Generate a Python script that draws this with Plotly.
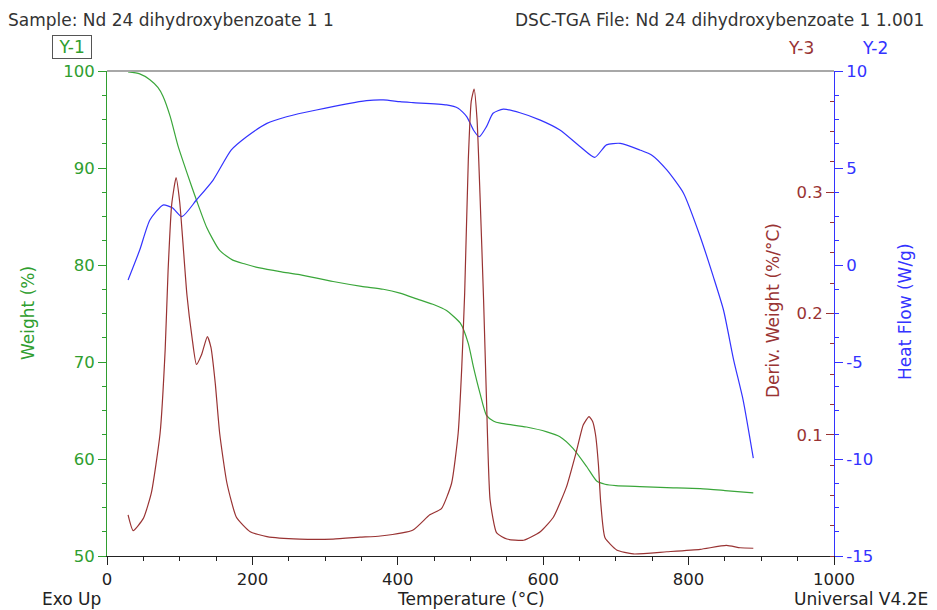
import plotly.graph_objects as go

# ---------------- data ----------------
weight_T = [29, 45, 59, 70, 77, 87, 98, 110, 123, 137, 155, 173, 190, 210, 240, 265, 311, 350, 380, 403,
            430, 450, 467, 486, 497, 504, 513, 522, 532, 541, 577, 605, 623, 641, 660, 674, 685, 700,
            733, 770, 816, 850, 889]
weight_W = [99.9, 99.7, 99.1, 98.3, 97.4, 95.3, 92.2, 89.5, 86.7, 83.9, 81.5, 80.5, 80.1, 79.7, 79.3, 79.0,
            78.3, 77.8, 77.5, 77.1, 76.4, 75.9, 75.3, 74.0, 71.9, 69.5, 66.8, 64.5, 63.9, 63.7, 63.3, 62.8,
            62.3, 61.1, 59.2, 57.7, 57.4, 57.25, 57.15, 57.05, 56.95, 56.75, 56.5]

deriv_T = [29, 36, 50, 61, 73, 80, 84, 89, 95, 100, 104, 110, 117, 123, 130, 138, 143, 149, 155, 165, 178,
           197, 220, 265, 311, 348, 376, 421, 444, 460, 474, 483, 488, 492, 497, 501, 505, 509, 513,
           518, 522, 527, 536, 550, 573, 596, 614, 632, 646, 655, 663, 668, 672, 676, 679, 685, 701, 724,
           770, 816, 852, 871, 889]
deriv_D = [0.034, 0.021, 0.031, 0.052, 0.101, 0.170, 0.235, 0.290, 0.312, 0.292, 0.262, 0.215, 0.180, 0.158,
           0.166, 0.181, 0.172, 0.142, 0.101, 0.060, 0.032, 0.020, 0.016, 0.014, 0.014, 0.0155, 0.0165,
           0.0215, 0.034, 0.039, 0.060, 0.101, 0.156, 0.217, 0.327, 0.375, 0.385, 0.360, 0.299, 0.211,
           0.129, 0.046, 0.019, 0.014, 0.013, 0.020, 0.032, 0.057, 0.087, 0.108, 0.115, 0.111, 0.100,
           0.075, 0.045, 0.015, 0.005, 0.0017, 0.0035, 0.0055, 0.0088, 0.0068, 0.0064]

heat_T = [29, 45, 59, 77, 90, 103, 123, 146, 171, 192, 220, 247, 288, 357, 380, 403, 421, 467, 483, 495,
          504, 512, 522, 531, 545, 568, 596, 623, 651, 671, 687, 706, 733, 750, 770, 793, 816, 834, 848,
          862, 875, 889]
heat_H = [-0.77, 0.77, 2.32, 3.09, 2.95, 2.49, 3.35, 4.38, 5.93, 6.61, 7.30, 7.64, 7.99, 8.47, 8.51, 8.42,
          8.37, 8.25, 8.08, 7.64, 6.96, 6.61, 7.13, 7.82, 8.03, 7.85, 7.47, 6.96, 6.10, 5.55, 6.19, 6.27,
          5.93, 5.65, 4.90, 3.70, 1.46, -0.60, -2.32, -4.90, -6.96, -9.96]

x_ticks = [0, 200, 400, 600, 800, 1000]
weight_ticks = [50, 60, 70, 80, 90, 100]
heat_ticks = [-15, -10, -5, 0, 5, 10]
heat_tick_labels = ["-15", "-10", "-5", "0", "5", "10"]
deriv_ticks = [0.1, 0.2, 0.3]

# ---------------- style ----------------
GREEN = "#2f9e2f"
BROWN = "#993333"
BLUE = "#3333ff"
FONT = "DejaVu Sans"

fig = go.Figure()
fig.add_trace(go.Scatter(x=weight_T, y=weight_W, mode="lines", yaxis="y",
                         line=dict(color="#3aa63a", width=1.2, shape="spline", smoothing=0.6)))
fig.add_trace(go.Scatter(x=heat_T, y=heat_H, mode="lines", yaxis="y2",
                         line=dict(color=BLUE, width=1.2, shape="spline", smoothing=0.6)))
fig.add_trace(go.Scatter(x=deriv_T, y=deriv_D, mode="lines", yaxis="y3",
                         line=dict(color=BROWN, width=1.2, shape="spline", smoothing=0.5)))

fig.update_layout(
    width=937, height=610,
    margin=dict(l=107, r=103, t=71, b=54),
    paper_bgcolor="white", plot_bgcolor="white",
    showlegend=False,
    font=dict(family=FONT, size=16.5, color="#222"),
    xaxis=dict(range=[0, 1000], tickvals=x_ticks, ticks="outside", ticklen=8, tickcolor="#222",
               minor=dict(dtick=50, ticks="outside", ticklen=4, tickcolor="#222"),
               showline=True, linecolor="#222", linewidth=1, showgrid=False, zeroline=False,
               tickfont=dict(color="#222", size=16.5)),
    yaxis=dict(range=[50, 100], tickvals=weight_ticks, ticks="outside", ticklen=8, tickcolor=GREEN,
               minor=dict(dtick=2.5, ticks="outside", ticklen=4, tickcolor=GREEN),
               showline=True, linecolor=GREEN, linewidth=1, showgrid=False, zeroline=False,
               tickfont=dict(color=GREEN, size=16.5)),
    yaxis2=dict(range=[-15, 10], tickvals=heat_ticks, ticktext=heat_tick_labels,
                overlaying="y", side="right", anchor="x",
                ticks="outside", ticklen=8, tickcolor=BLUE,
                minor=dict(dtick=1.25, ticks="outside", ticklen=4, tickcolor=BLUE),
                showline=True, linecolor=BLUE, linewidth=1, showgrid=False, zeroline=False,
                tickfont=dict(color=BLUE, size=16.5)),
    yaxis3=dict(range=[0, 0.4], tickvals=deriv_ticks, overlaying="y", side="left",
                anchor="free", position=1.0,
                ticks="outside", ticklen=8, tickcolor=BROWN,
                minor=dict(dtick=0.025, ticks="outside", ticklen=4, tickcolor=BROWN),
                showline=False, showgrid=False, zeroline=False,
                tickfont=dict(color=BROWN, size=16.5)),
)

# top frame line
fig.add_shape(type="line", xref="paper", yref="paper", x0=0, x1=1, y0=1, y1=1,
              line=dict(color="#a8a8a8", width=2))

def px_x(p):
    return (p - 107) / 727.0

def px_y(p):
    return (556 - p) / 485.0

ann = []
def add(text, x, y, xa="center", ya="middle", color="#333", size=17, angle=0, **kw):
    ann.append(dict(text=text, x=px_x(x), y=px_y(y), xref="paper", yref="paper",
                    xanchor=xa, yanchor=ya, showarrow=False, textangle=angle,
                    font=dict(family=FONT, size=size, color=color), **kw))

add("Sample: Nd 24 dihydroxybenzoate 1 1", 6, 20, xa="left")
add("DSC-TGA File: Nd 24 dihydroxybenzoate 1 1.001", 926, 20, xa="right")
add("\u00a0Y-1\u00a0", 71.5, 47, color=GREEN, bordercolor="#555", borderwidth=1, borderpad=1)
add("Y-3", 801, 48, color=BROWN)
add("Y-2", 875, 48, color=BLUE)
add("Exo Up", 40, 599, xa="left", color="#222")
add("Temperature (°C)", 471, 599, color="#222")
add("Universal V4.2E", 930, 599, xa="right", color="#222")
add("Weight (%)", 28, 313, color=GREEN, angle=-90)
add("Deriv. Weight (%/°C)", 773, 311, color=BROWN, angle=-90)
add("Heat Flow (W/g)", 905, 312, color=BLUE, angle=-90)
fig.update_layout(annotations=ann)

fig.write_html("out.html", config={"displayModeBar": False},
               post_script="document.body.style.margin='0';document.body.style.padding='0';")
